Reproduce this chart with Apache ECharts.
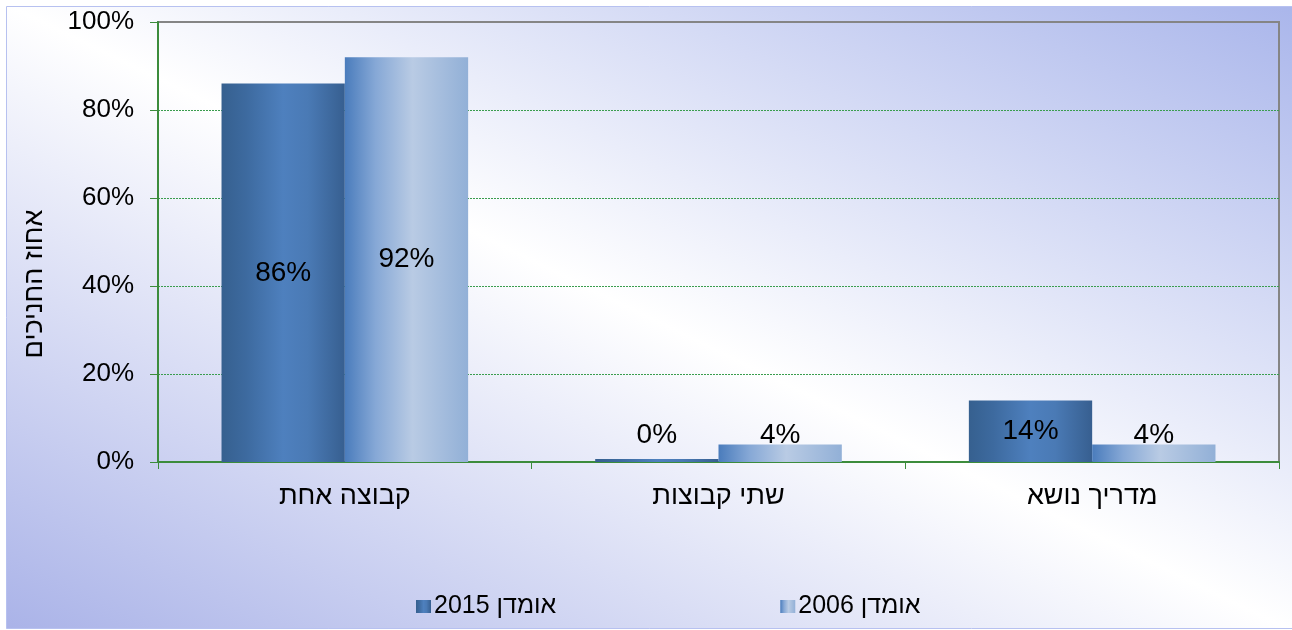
<!DOCTYPE html>
<html>
<head>
<meta charset="utf-8">
<script src="https://cdn.jsdelivr.net/npm/echarts@6/dist/echarts.min.js"></script>
<style>
  html, body { margin: 0; padding: 0; background: #ffffff; }
  #chart { width: 1292px; height: 630px; }
</style>
</head>
<body>
<div id="chart"></div>
<script>
// Categories along the x axis
const categories = ['קבוצה אחת', 'שתי קבוצות', 'מדריך נושא'];
// Series names
const seriesNames = ['אומדן 2015', 'אומדן 2006'];
// Percent of participants per category
const values2015 = [86, 0, 14];
const values2006 = [92, 4, 4];
// Y-axis ticks
const yTicks = [0, 20, 40, 60, 80, 100];
const yAxisTitle = 'אחוז החניכים';

const FONT = '"Liberation Sans", Arial, "DejaVu Sans", sans-serif';
const GREEN = '#3c8c3c';
const GRID_GREEN = '#3a9d4e';

function hGrad(stops) {
  return new echarts.graphic.LinearGradient(0, 0, 1, 0,
    stops.map(s => ({ offset: s[0], color: s[1] })));
}
const grad2015 = hGrad([[0, '#36608f'], [0.2, '#3d6a9f'], [0.5, '#4e80be'], [0.7, '#4a7ab5'], [1, '#375f90']]);
const grad2006 = hGrad([[0, '#4a7cbc'], [0.25, '#86a8d6'], [0.55, '#b9cbe4'], [1, '#92b0d7']]);

// Small values get their label placed just above the baseline
function toData(vals) {
  return vals.map(v => ({
    value: v,
    label: v < 10
      ? { position: 'insideBottom', distance: 13 }
      : { position: 'inside' }
  }));
}

// Split lines in green, except the top one which sits under the gray frame
const splitColors = yTicks.map((t, i) => i === yTicks.length - 1 ? 'rgba(0,0,0,0)' : GRID_GREEN);

const chart = echarts.init(document.getElementById('chart'), null, { renderer: 'canvas' });

const barLabel = {
  show: true,
  formatter: p => Math.round(p.value) + '%',
  fontSize: 28,
  color: '#000',
  fontFamily: FONT
};

const option = {
  animation: false,
  textStyle: { fontFamily: FONT },
  graphic: [{
    type: 'rect',
    z: -100,
    silent: true,
    shape: { x: 6.5, y: 6.5, width: 1300, height: 622 },
    style: {
      fill: new echarts.graphic.LinearGradient(400, 821, 892, -189, [
        { offset: 0, color: '#aab3e8' },
        { offset: 0.5, color: '#ffffff' },
        { offset: 1, color: '#aab6eb' }
      ], true),
      stroke: '#b7c1f0',
      lineWidth: 1
    }
  }],
  grid: {
    left: 158, right: 13, top: 22, bottom: 168,
    show: true,
    borderColor: '#858585',
    borderWidth: 2,
    backgroundColor: 'transparent'
  },
  legend: {
    data: seriesNames,
    left: 411,
    top: 589,
    itemWidth: 15,
    itemHeight: 13,
    itemGap: 224,
    icon: 'rect',
    textStyle: { fontSize: 25, color: '#000', fontFamily: FONT, padding: [0, 0, 0, -2] }
  },
  xAxis: {
    type: 'category',
    data: categories,
    axisLine: { show: true, lineStyle: { color: GREEN, width: 2 } },
    axisTick: { show: true, length: 7, lineStyle: { color: GREEN, width: 1 } },
    axisLabel: { fontSize: 27, color: '#000', margin: 21, fontFamily: FONT },
    splitLine: { show: false }
  },
  yAxis: {
    type: 'value',
    min: yTicks[0],
    max: yTicks[yTicks.length - 1],
    interval: yTicks[1] - yTicks[0],
    name: yAxisTitle,
    nameLocation: 'middle',
    nameGap: 110,
    nameRotate: 90,
    nameTextStyle: { fontSize: 27, color: '#000', fontFamily: FONT, padding: [0, 84, 0, 0] },
    axisLine: { show: true, lineStyle: { color: GREEN, width: 2 } },
    axisTick: { show: true, length: 8, lineStyle: { color: GREEN, width: 1 } },
    axisLabel: { fontSize: 26, color: '#000', margin: 24, formatter: '{value}%', fontFamily: FONT },
    splitLine: {
      show: true,
      lineStyle: { type: [2, 1], width: 1, color: splitColors }
    }
  },
  series: [
    {
      name: seriesNames[0],
      type: 'bar',
      data: toData(values2015),
      barGap: '0%',
      barCategoryGap: '34%',
      barMinHeight: 3,
      itemStyle: { color: grad2015 },
      label: barLabel
    },
    {
      name: seriesNames[1],
      type: 'bar',
      data: toData(values2006),
      barGap: '0%',
      barCategoryGap: '34%',
      itemStyle: { color: grad2006 },
      label: barLabel
    }
  ]
};

chart.setOption(option);
</script>
</body>
</html>
